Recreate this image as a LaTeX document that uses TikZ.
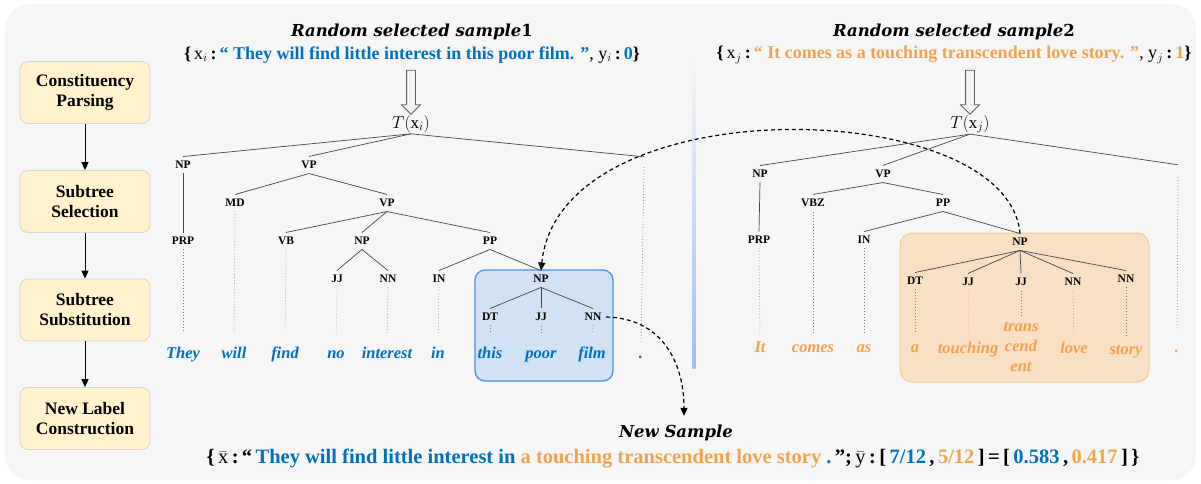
\documentclass[tikz,border=0pt]{standalone}
\usepackage{amsmath}
\usepackage{amssymb}
\usepackage{fontspec}
\setmainfont{Liberation Serif}
\newfontfamily\ttlfont{DejaVu Serif}
\usetikzlibrary{arrows.meta,shapes.arrows}

\definecolor{bgc}{RGB}{246,246,246}
\definecolor{cblue}{RGB}{0,112,192}
\definecolor{corange}{RGB}{244,162,78}
\definecolor{stepfill}{RGB}{255,242,204}
\definecolor{stepline}{RGB}{218,214,206}
\definecolor{selblue}{RGB}{208,226,244}
\definecolor{selblueline}{RGB}{77,145,235}
\definecolor{selorange}{RGB}{249,224,196}
\definecolor{selorangeline}{RGB}{246,202,156}
\definecolor{branchc}{RGB}{70,70,70}
\definecolor{divc}{RGB}{160,190,245}

\begin{document}
\begin{tikzpicture}[x=1pt,y=1pt,yscale=-1,
  stepbox/.style={draw=stepline,fill=stepfill,line width=0.8pt,rounded corners=8pt,minimum width=130pt,minimum height=62pt,align=center,font=\fontsize{17.5}{20}\selectfont\bfseries},
  flow/.style={line width=1pt,-{Triangle[length=8pt,width=7pt]}},
  plabel/.style={inner sep=4.5pt,font=\fontsize{11.5}{12}\selectfont\bfseries},
  wordA/.style={inner sep=2pt,text height=11pt,text depth=3.5pt,font=\fontsize{16.5}{20}\selectfont\bfseries\itshape,text=cblue},
  wordB/.style={wordA,text=corange},
  branch/.style={draw=branchc,line width=0.7pt},
  leaf/.style={draw=gray,line width=0.6pt,dash pattern=on 0.7pt off 2.3pt,shorten >=#1},
  leaf/.default=12pt,
  hollow/.style={single arrow,shape border rotate=270,draw=gray!75!black,fill=white!90!gray,line width=0.8pt,minimum height=44pt,inner sep=4pt,single arrow head extend=5pt},
  dashlink/.style={line width=1.2pt,dash pattern=on 4pt off 3pt,-{Triangle[length=8pt,width=7pt]}},
  sent/.style={inner sep=1pt,font=\fontsize{18}{20}\selectfont},
  title/.style={inner sep=1pt,font=\fontsize{16.5}{18}\selectfont\ttlfont\bfseries\itshape}
]
\fill[white] (0,0) rectangle (1201,484);
\fill[bgc,rounded corners=25pt] (5,4) rectangle (1196,480);

% steps
\node[stepbox] (csp) at (85,92.5) {Constituency\\Parsing};
\node[stepbox] (sts) at (85,201.5) {Subtree\\Selection};
\node[stepbox] (stb) at (85,310) {Subtree\\Substitution};
\node[stepbox] (nlc) at (85,418.5) {New Label\\Construction};
\draw[flow] (csp) -- (sts);
\draw[flow] (sts) -- (stb);
\draw[flow] (stb) -- (nlc);

% divider
\shade[top color=bgc,bottom color=divc] (692.5,58) rectangle (695.5,368);

% selected subtrees
\draw[draw=selblueline,fill=selblue,line width=1.3pt,rounded corners=10pt] (475,270) rectangle (613,381);
\draw[draw=selorangeline,fill=selorange,line width=1pt,rounded corners=12pt] (900,233) rectangle (1149,382);

% Text Node
\node[title] (ttlA) at (412,32) {Random selected sample{\upshape 1}};
\node[sent] (smpA) at (412,55) {\textbf{\{}\,$\mathrm{x}_i$\,\textbf{:}\,\textbf{\textcolor{cblue}{“ They will find little interest in this poor film. ”}}, $\mathrm{y}_i$\,\textbf{:}\,\textbf{\textcolor{cblue}{0}\}}};
\node[hollow] (arA) at (411,90) {};
\node[inner sep=1pt,font=\fontsize{17}{20}\selectfont] (tA) at (411,124) {$T(\mathrm{x}_i)$};

% Text Node
\node[title] (ttlB) at (954,32) {Random selected sample{\upshape 2}};
\node[sent] (smpB) at (954,55) {\textbf{\{}\,$\mathrm{x}_j$\,\textbf{:}\,\textbf{\textcolor{corange}{“ It comes as a touching transcendent love story. ”}}, $\mathrm{y}_j$\,\textbf{:}\,\textbf{\textcolor{corange}{1}\}}};
\node[hollow] (arB) at (970,90) {};
\node[inner sep=1pt,font=\fontsize{17}{20}\selectfont] (tB) at (970,124) {$T(\mathrm{x}_j)$};

% left tree
\node[plabel] (npA) at (183,165) {NP};
\node[plabel] (vpA) at (309,165) {VP};
\node[inner sep=5pt] (pA) at (644,162) {};
\node[plabel] (mdA) at (235,203) {MD};
\node[plabel] (vpB) at (387,203) {VP};
\node[plabel] (prpA) at (183,241) {PRP};
\node[plabel] (vbA) at (286,241) {VB};
\node[plabel] (npB) at (362,241) {NP};
\node[plabel] (ppA) at (490,241) {PP};
\node[plabel] (jjA) at (337,279) {JJ};
\node[plabel] (nnA) at (388,279) {NN};
\node[plabel] (inA) at (439,279) {IN};
\node[plabel] (npC) at (541,279) {NP};
\node[plabel] (dtA) at (490,317) {DT};
\node[plabel] (jjB) at (541,317) {JJ};
\node[plabel] (nnB) at (593,317) {NN};

\node[wordA] (wA1) at (183,355) {They};
\node[wordA] (wA2) at (234,355) {will};
\node[wordA] (wA3) at (285,355) {find};
\node[wordA] (wA4) at (336,355) {no};
\node[wordA] (wA5) at (387,355) {interest};
\node[wordA] (wA6) at (438,355) {in};
\node[wordA] (wA7) at (490,355) {this};
\node[wordA] (wA8) at (541,355) {poor};
\node[wordA] (wA9) at (592,355) {film};
\node[wordA] (wA10) at (641,355) {.};

\draw[branch] (tA.south) -- (npA.north);
\draw[branch] (tA.south) -- (vpA.north);
\draw[branch] (tA.south) -- (pA.north);
\draw[branch] (npA.south) -- (prpA.north);
\draw[branch] (vpA.south) -- (mdA.north);
\draw[branch] (vpA.south) -- (vpB.north);
\draw[branch] (vpB.south) -- (vbA.north);
\draw[branch] (vpB.south) -- (npB.north);
\draw[branch] (vpB.south) -- (ppA.north);
\draw[branch] (npB.south) -- (jjA.north);
\draw[branch] (npB.south) -- (nnA.north);
\draw[branch] (ppA.south) -- (inA.north);
\draw[branch] (ppA.south) -- (npC.north);
\draw[branch] (npC.south) -- (dtA.north);
\draw[branch] (npC.south) -- (jjB.north);
\draw[branch] (npC.south) -- (nnB.north);

\draw[leaf=12.75pt] (prpA.south) -- (wA1.north);
\draw[leaf=12.75pt] (mdA.south) -- (wA2.north);
\draw[leaf=12.75pt] (vbA.south) -- (wA3.north);
\draw[leaf=12.75pt] (jjA.south) -- (wA4.north);
\draw[leaf=12.75pt] (nnA.south) -- (wA5.north);
\draw[leaf=12.75pt] (inA.south) -- (wA6.north);
\draw[leaf=12.75pt] (dtA.south) -- (wA7.north);
\draw[leaf=12.75pt] (jjB.south) -- (wA8.north);
\draw[leaf=12.75pt] (nnB.south) -- (wA9.north);
\draw[leaf=3pt] (pA.south) -- (wA10.north);

% right tree
\node[plabel] (npD) at (760,174) {NP};
\node[plabel] (vpC) at (883,174) {VP};
\node[inner sep=6pt] (pB) at (1178,171) {};
\node[plabel] (vbzA) at (813,203) {VBZ};
\node[plabel] (ppB) at (943,203) {PP};
\node[plabel] (prpB) at (759,240) {PRP};
\node[plabel] (inB) at (864,240) {IN};
\node[plabel] (npE) at (1020,242) {NP};
\node[plabel] (dtB) at (915,281) {DT};
\node[plabel] (jjC) at (968,282) {JJ};
\node[plabel] (jjD) at (1021,282) {JJ};
\node[plabel] (nnC) at (1073,282) {NN};
\node[plabel] (nnD) at (1126,279) {NN};

\node[wordB] (wB1) at (760,349) {It};
\node[wordB] (wB2) at (813,349) {comes};
\node[wordB] (wB3) at (864,349) {as};
\node[wordB] (wB4) at (915,349) {a};
\node[wordB] (wB5) at (968,350) {touching};
\node[inner sep=1pt,align=center,font=\fontsize{16.5}{20}\selectfont\bfseries\itshape,text=corange] (wB6) at (1021,347) {trans\\cend\\ent};
\node[wordB] (wB7) at (1074,350) {love};
\node[wordB] (wB8) at (1126,351) {story};
\node[wordB] (wB9) at (1177,349) {.};

\draw[branch] (tB.south) -- (npD.north);
\draw[branch] (tB.south) -- (vpC.north);
\draw[branch] (tB.south) -- (pB.north);
\draw[branch] (npD.south) -- (prpB.north);
\draw[branch] (vpC.south) -- (vbzA.north);
\draw[branch] (vpC.south) -- (ppB.north);
\draw[branch] (ppB.south) -- (inB.north);
\draw[branch] (ppB.south) -- (npE.north);
\draw[branch] (npE.south) -- (dtB.north);
\draw[branch] (npE.south) -- (jjC.north);
\draw[branch] (npE.south) -- (jjD.north);
\draw[branch] (npE.south) -- (nnC.north);
\draw[branch] (npE.south) -- (nnD.north);

\draw[leaf=6pt] (prpB.south) -- (wB1.north);
\draw[leaf=6pt] (vbzA.south) -- (wB2.north);
\draw[leaf=6pt] (inB.south) -- (wB3.north);
\draw[leaf=6pt] (dtB.south) -- (wB4.north);
\draw[leaf=6pt,draw=corange!60] (jjC.south) -- (wB5.north);
\draw[leaf=6pt] (jjD.south) -- (wB6.north);
\draw[leaf=6pt] (nnC.south) -- (wB7.north);
\draw[leaf=6pt] (nnD.south) -- (wB8.north);
\draw[leaf=9pt] (pB.south) -- (wB9.north);

% new sample
\node[title] (newS) at (676,433) {New Sample};
\node[sent,font=\fontsize{20.5}{22}\selectfont] (smpC) at (673,459) {\textbf{\{}\,$\bar{\mathrm{x}}$\,\textbf{:}\,\textbf{“\,\textcolor{cblue}{They will find little interest in} \textcolor{corange}{a touching transcendent love story} \textcolor{cblue}{.}\,”;}\,$\bar{\mathrm{y}}$\,\textbf{:}\,\textbf{[\,\textcolor{cblue}{7/12}\,,\,\textcolor{corange}{5/12}\,]\,=\,[\,\textcolor{cblue}{0.583}\,,\,\textcolor{corange}{0.417}\,]\,\}}};

% substitution links
\draw[dashlink] (npE.north) .. controls (1008,95) and (560,85) .. (npC.north);
\draw[dashlink] (nnB.east) .. controls (660,318) and (684,360) .. ([shift={(8,-8)}]newS.north);

\end{tikzpicture}
\end{document}
